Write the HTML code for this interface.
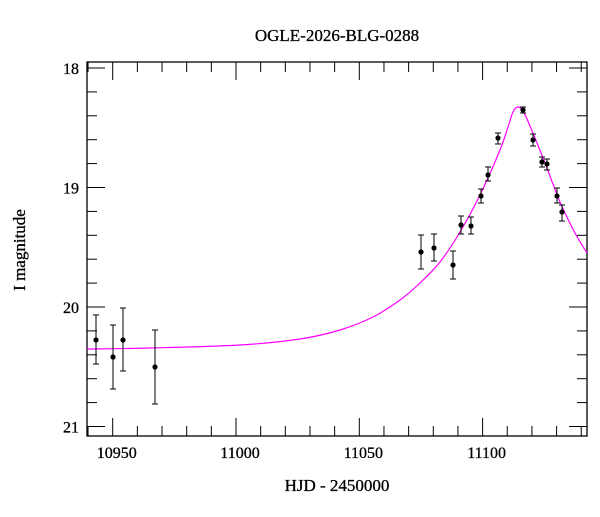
<!DOCTYPE html>
<html><head><meta charset="utf-8"><style>
body{margin:0;background:#fff}
text{font-family:"Liberation Serif",serif;fill:#000}
</style></head><body>
<svg id="s" width="600" height="512" xmlns="http://www.w3.org/2000/svg">
<text x="337" y="41" font-size="17" text-anchor="middle" stroke="#000" stroke-width="0.3">OGLE-2026-BLG-0288</text>
<text x="337" y="491" font-size="17" text-anchor="middle" stroke="#000" stroke-width="0.3">HJD - 2450000</text>
<text transform="translate(25,250) rotate(-90)" font-size="17" text-anchor="middle" stroke="#000" stroke-width="0.3">I magnitude</text>
<rect x="87" y="62" width="500" height="374" fill="none" stroke="#000" stroke-width="1.3"/>
<g id="ticks" stroke="#000" stroke-width="1"></g>
<g id="lab" font-size="16" stroke="#000" stroke-width="0.3"></g>
<path id="curve" fill="none" stroke="#ff00ff" stroke-width="1.2"/>
<g id="pts" stroke="#000" stroke-width="1"></g>
</svg>
<script>
const NS="http://www.w3.org/2000/svg";
function el(p,t,a,txt){const e=document.createElementNS(NS,t);for(const k in a)e.setAttribute(k,a[k]);if(txt)e.textContent=txt;document.getElementById(p).appendChild(e);}
for(let d=10940;d<=11140;d+=10){const x=112.7+(d-10950)*2.466;if(x<88||x>586)continue;const maj=d%50==0;const L=maj?18:10;
el("ticks","line",{x1:x,y1:436,x2:x,y2:436-L});el("ticks","line",{x1:x,y1:62,x2:x,y2:62+L});
if(maj)el("lab","text",{x:x+4,y:458,"text-anchor":"middle"},String(d));}
for(let i=0;i<=15;i++){const m=18+i*0.2;const y=68+(m-18)*119.5;if(y>435)continue;const maj=Math.abs(m-Math.round(m))<1e-6;const L=maj?18:10;
el("ticks","line",{x1:87,y1:y,x2:87+L,y2:y});el("ticks","line",{x1:587,y1:y,x2:587-L,y2:y});
if(maj)el("lab","text",{x:79,y:y+6,"text-anchor":"end"},String(Math.round(m)));}
const P=[[87,349],[150,348],[240,345],[300,339],[340,330],[373,317],[400,300],[420,283],[440,262],[460,232],[480,195],[500,150],[508,127],[513,112],[518,107],[523,111],[530,126],[545,163],[560,202],[575,233],[587,253]];
let d="M"+P[0][0]+","+P[0][1];
for(let i=0;i<P.length-1;i++){const p0=P[Math.max(i-1,0)],p1=P[i],p2=P[i+1],p3=P[Math.min(i+2,P.length-1)];
d+=` C${p1[0]+(p2[0]-p0[0])/6},${p1[1]+(p2[1]-p0[1])/6} ${p2[0]-(p3[0]-p1[0])/6},${p2[1]-(p3[1]-p1[1])/6} ${p2[0]},${p2[1]}`;}
document.getElementById("curve").setAttribute("d",d);
const D=[[96,340,315,364],[113,357,325,389],[123,340,308,371],[155,367,330,404],[421,252,235,269],[434,248,234,261],[453,265,251,279],[461,225,216,234],[471,226,217,234],[481,196,189,203],[488,175,167,181],[498,138,133,144],[523,110,107,113],[533,140,134,146],[542,162,157,167],[547,164,159,170],[557,196,188,203],[562,212,205,221]];
for(const [x,y,t,b] of D){el("pts","line",{x1:x,y1:t,x2:x,y2:b});el("pts","line",{x1:x-3,y1:t,x2:x+3,y2:t});el("pts","line",{x1:x-3,y1:b,x2:x+3,y2:b});el("pts","circle",{cx:x,cy:y,r:2.6,fill:"#000",stroke:"none"});}
</script>
</body></html>
